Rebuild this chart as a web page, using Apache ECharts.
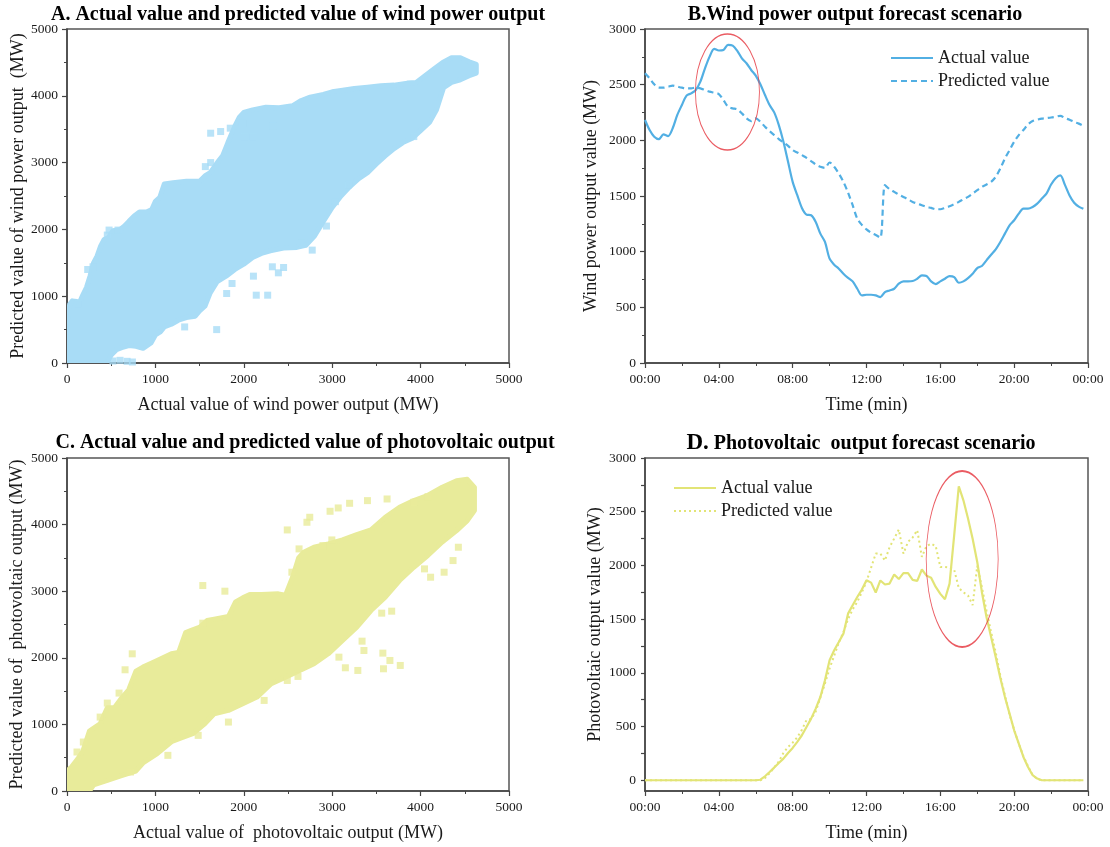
<!DOCTYPE html>
<html lang="en">
<head>
<meta charset="UTF-8">
<title>Wind and photovoltaic output forecast</title>
<script src="https://cdn.jsdelivr.net/npm/echarts@6/dist/echarts.min.js"></script>
<style>
  html, body { margin: 0; padding: 0; background: #fff; }
  #chart { width: 1110px; height: 847px; }
</style>
</head>
<body>
<div id="chart"></div>
<script>
// ---- data ----
// A: wind scatter, cloud outline (upper / lower edge) plus loose points
var windUpper = [[0,560],[30,880],[60,930],[110,920],[140,900],[180,1020],[220,1130],[260,1300],[300,1500],[340,1600],
  [380,1750],[420,1850],[470,1880],[520,1980],[600,2000],[650,2050],[700,2120],[760,2200],[820,2260],[900,2260],
  [960,2300],[1000,2420],[1050,2480],[1100,2680],[1200,2700],[1350,2720],[1500,2720],[1560,2800],[1620,2850],
  [1700,3000],[1760,3100],[1820,3300],[1900,3550],[1950,3680],[2000,3750],[2100,3790],[2250,3830],[2400,3820],
  [2550,3850],[2650,3930],[2750,3980],[2900,4020],[3000,4060],[3100,4080],[3250,4110],[3400,4130],[3550,4150],
  [3700,4160],[3850,4190],[3950,4200],[4050,4300],[4150,4400],[4250,4500],[4350,4570],[4450,4570],[4550,4510],[4630,4470]];
var windLower = [[0,0],[450,0],[500,120],[560,200],[620,230],[700,260],[780,250],[860,220],[950,300],[1000,420],
  [1060,470],[1100,540],[1180,580],[1260,640],[1350,680],[1450,700],[1500,780],[1560,850],[1620,1050],[1700,1220],
  [1800,1300],[1900,1400],[2000,1480],[2100,1580],[2200,1640],[2300,1680],[2450,1720],[2600,1730],[2700,1760],
  [2800,1900],[2900,2120],[3000,2330],[3100,2500],[3200,2640],[3300,2760],[3400,2850],[3500,2980],[3600,3100],
  [3700,3210],[3800,3300],[3900,3360],[4000,3480],[4100,3600],[4180,3790],[4260,4120],[4350,4200],[4450,4240],
  [4550,4300],[4630,4340]];
var windOutliers = [[125,890],[234,1400],[294,1440],[456,1915],[476,1990],[577,1990],[520,30],[600,40],[680,25],
  [740,15],[1331,540],[1693,500],[1806,1040],[1867,1190],[2109,1300],[2141,1015],[2270,1015],[2323,1440],
  [2391,1350],[2774,1690],[2935,2050],[2653,1790],[1565,2940],[1625,3000],[1625,3440],[1738,3465],[1847,3515],
  [1988,3590],[2008,3390],[2109,3390],[2330,3550],[2585,3615],[3923,3390],[3185,2665],[3036,2415],[2450,1430]];

// C: photovoltaic scatter
var pvUpper = [[0,300],[50,360],[120,480],[180,600],[254,900],[320,960],[375,1010],[456,1250],[536,1250],
  [620,1400],[698,1520],[780,1800],[859,1860],[940,1910],[1020,1960],[1181,2060],[1262,2080],[1342,2380],
  [1420,2420],[1504,2460],[1585,2560],[1665,2580],[1826,2620],[1907,2840],[1988,2900],[2068,2950],[2200,2950],
  [2391,2960],[2472,2940],[2552,3210],[2620,3500],[2673,3580],[2794,3660],[2955,3710],[3117,3770],[3278,3850],
  [3439,3920],[3600,4110],[3762,4260],[3923,4360],[4084,4440],[4245,4560],[4407,4660],[4528,4680],[4609,4560]];
var pvLower = [[0,0],[254,0],[300,90],[456,160],[617,230],[778,300],[859,420],[1020,560],[1181,740],[1300,800],
  [1423,860],[1550,1000],[1665,1160],[1826,1210],[1988,1310],[2149,1410],[2310,1610],[2472,1710],[2633,1810],
  [2794,1910],[2955,2060],[3117,2260],[3278,2460],[3439,2710],[3600,2910],[3762,3160],[3923,3360],[4084,3540],
  [4245,3740],[4407,3910],[4528,4060],[4609,4210]];
var pvOutliers = [[738,2060],[657,1820],[456,1320],[589,1470],[375,1110],[185,735],[113,585],[1536,3085],
  [1786,3000],[1536,2520],[2492,3920],[2714,4035],[2746,4110],[2976,4200],[3068,4250],[3197,4320],[3399,4360],
  [3621,4385],[3923,4335],[4084,4420],[2625,3635],[2895,3685],[2996,3770],[2544,3285],[4044,3335],[4113,3210],
  [4266,3285],[4367,3460],[4427,3660],[3673,2700],[3560,2670],[3338,2250],[3359,2110],[3573,2070],[3653,1960],
  [3580,1835],[3770,1885],[3149,1850],[3290,1810],[3076,2010],[2613,1720],[2492,1660],[2230,1360],[1826,1035],
  [1141,535],[1484,835],[718,285]];

// B / D: one value every 15 minutes from 00:00 to 23:45
var stepMin = 15;
var windActual = [
  2183,2093,2033,2011, 2053,2038,2108,2228, 2318,2402,2422,2452, 2527,2647,2752,2822,
  2807,2812,2857,2851, 2804,2737,2692,2632, 2581,2503,2407,2317, 2251,2137,1987,1807,
  1627,1507,1393,1333, 1327,1267,1162,1087, 937,883,847,802, 765,733,667,607,
  613,613,607,592, 637,652,667,712, 733,733,736,757, 787,781,733,709,
  733,757,781,772, 721,733,763,802, 853,871,922,973, 1021,1087,1162,1237,
  1282,1342,1387,1387, 1402,1432,1477,1522, 1603,1660,1685,1600, 1505,1440,1405,1385];
var windPredicted = [
  2603,2557,2503,2473, 2473,2482,2491,2482, 2473,2467,2467,2473, 2467,2452,2437,2428,
  2416,2362,2302,2287, 2278,2242,2197,2173, 2197,2167,2122,2083, 2047,2011,1981,1951,
  1912,1891,1867,1843, 1813,1783,1762,1753, 1801,1762,1702,1627, 1530,1417,1297,1240,
  1200,1170,1150,1125, 1597,1561,1537,1513, 1492,1471,1447,1432, 1417,1402,1393,1381,
  1381,1393,1408,1426, 1447,1471,1492,1522, 1552,1582,1603,1627, 1672,1747,1837,1912,
  1987,2047,2092,2143, 2173,2185,2195,2200, 2205,2212,2220,2200, 2185,2165,2150,2130];
var pvActual = [
  0,0,0,0, 0,0,0,0, 0,0,0,0, 0,0,0,0, 0,0,0,0, 0,0,0,0,
  0,5,37,77, 118,161,201,254, 301,357,419,496, 574,667,775,930,
  1117,1210,1287,1365, 1551,1629,1706,1775, 1862,1840,1748,1860, 1822,1831,1915,1873,
  1928,1928,1865,1856, 1962,1905,1885,1800, 1735,1685,1830,2280, 2737,2606,2436,2249,
  2032,1753,1520,1334, 1148,952,775,620, 465,341,217,124, 47,16,0,0,
  0,0,0,0, 0,0,0,0];
var pvPredicted = [
  0,0,0,0, 0,0,0,0, 0,0,0,0, 0,0,0,0, 0,0,0,0, 0,0,0,0,
  0,0,20,65, 120,175,255,310, 350,400,470,560, 570,640,770,900,
  1040,1160,1280,1380, 1500,1590,1660,1750, 1850,1980,2110,2110, 2045,2170,2250,2334,
  2110,2220,2260,2328, 2079,2180,2203,2180, 1985,1985,1980,1960, 1790,1750,1720,1630,
  1995,1800,1580,1380, 1190,975,790,610, 470,340,225,130, 50,12,0,0,
  0,0,0,0, 0,0,0,0];

// red ellipses marking the peaks: [time in minutes, value]
var windMark = [[268, 2434]];
var pvMark = [[1031, 2060]];

var pvValueLabels = [0, 500, 1000, 1500, 2000, 2500, 3000];
var pvValueTicks = [0, 250, 500, 750, 1000, 1250, 1500, 1750, 2000, 2250, 2500, 2750, 3000];

// ---- styles ----
var serif = "'Liberation Serif', 'Times New Roman', serif";
var ink = '#1a1a1a';
var axisGray = '#444';
var windBlue = '#52afe3';
var windCloud = '#a8dcf6';
var pvYellow = '#e2e476';
var pvCloud = '#e8eb9a';
var markRed = '#e5323b';

function toPairs(values) {
  return values.map(function (v, i) { return [i * stepMin, v]; });
}

function hhmm(v) {
  var h = Math.floor(v / 60) % 24;
  return (h < 10 ? '0' : '') + h + ':00';
}

function plain(v) { return String(v); }

function label(fmt, extra) {
  var l = { fontFamily: serif, fontSize: 13.5, color: ink, margin: 9, formatter: fmt || plain };
  for (var k in extra) l[k] = extra[k];
  return l;
}

function baseAxis(extra) {
  var ax = {
    type: 'value',
    nameLocation: 'middle',
    nameTextStyle: { fontFamily: serif, fontSize: 18, color: ink },
    axisLine: { show: true, onZero: false, lineStyle: { color: axisGray, width: 1.5 } },
    axisTick: { show: true, length: 5, lineStyle: { color: axisGray, width: 1.2 } },
    minorTick: { show: true, splitNumber: 2, length: 3, lineStyle: { color: axisGray, width: 1 } },
    axisLabel: label(),
    splitLine: { show: false },
    minorSplitLine: { show: false }
  };
  for (var k in extra) ax[k] = extra[k];
  return ax;
}

// the dense point cloud, filled between its upper and lower edge
function cloud(upper, lower, color, gi) {
  return {
    type: 'custom',
    xAxisIndex: gi,
    yAxisIndex: gi,
    silent: true,
    clip: true,
    data: [[0, 0]],
    renderItem: function (params, api) {
      var pts = [];
      for (var i = 0; i < upper.length; i++) pts.push(api.coord(upper[i]));
      for (var j = lower.length - 1; j >= 0; j--) pts.push(api.coord(lower[j]));
      return {
        type: 'polygon',
        shape: { points: pts },
        style: { fill: color, stroke: color, lineWidth: 5, lineJoin: 'round' }
      };
    }
  };
}

function ellipse(data, size, gi) {
  return {
    type: 'scatter',
    xAxisIndex: gi,
    yAxisIndex: gi,
    silent: true,
    z: 10,
    symbol: 'circle',
    symbolSize: size,
    itemStyle: { color: 'rgba(0,0,0,0)', borderColor: markRed, borderWidth: 1.2 },
    data: data
  };
}

var titleStyle = { fontFamily: serif, fontSize: 20, fontWeight: 'bold', color: '#000' };
var legendText = { fontFamily: serif, fontSize: 18, color: ink };

var chart = echarts.init(document.getElementById('chart'));
chart.setOption({
  backgroundColor: '#fff',
  animation: false,
  title: [
    { text: 'A. Actual value and predicted value of wind power output', left: 298, top: 5, textAlign: 'center', padding: 0, textStyle: titleStyle },
    { text: 'B.Wind power output forecast scenario', left: 855, top: 5, textAlign: 'center', padding: 0, textStyle: titleStyle },
    { text: 'C. Actual value and predicted value of photovoltaic output', left: 305, top: 433, textAlign: 'center', padding: 0, textStyle: titleStyle },
    { text: '{d|D.} Photovoltaic  output forecast scenario', left: 861, top: 432, textAlign: 'center', padding: 0,
      textStyle: { fontFamily: serif, fontSize: 20, fontWeight: 'bold', color: '#000',
        rich: { d: { fontFamily: serif, fontSize: 23, fontWeight: 'bold', color: '#000' } } } }
  ],
  legend: [
    { data: ['Actual value', 'Predicted value'], orient: 'vertical', left: 890, top: 49, padding: 0,
      itemWidth: 42, itemHeight: 14, itemGap: 5, textStyle: legendText, itemStyle: { opacity: 0 } },
    { data: ['Actual value ', 'Predicted value '], orient: 'vertical', left: 673, top: 479, padding: 0,
      itemWidth: 42, itemHeight: 14, itemGap: 5, textStyle: legendText, itemStyle: { opacity: 0 } }
  ],
  grid: [
    { left: 67, top: 29, width: 442, height: 334, show: true, borderColor: '#555', borderWidth: 1.5, backgroundColor: 'transparent' },
    { left: 645, top: 29, width: 443, height: 334, show: true, borderColor: '#555', borderWidth: 1.5, backgroundColor: 'transparent' },
    { left: 67, top: 458, width: 442, height: 333, show: true, borderColor: '#555', borderWidth: 1.5, backgroundColor: 'transparent' },
    { left: 645, top: 458, width: 443, height: 333, show: true, borderColor: '#555', borderWidth: 1.5, backgroundColor: 'transparent' }
  ],
  xAxis: [
    baseAxis({ gridIndex: 0, min: 0, max: 5000, interval: 1000, name: 'Actual value of wind power output (MW)', nameGap: 33 }),
    baseAxis({ gridIndex: 1, min: 0, max: 1440, interval: 240, name: 'Time (min)', nameGap: 33, axisLabel: label(hhmm) }),
    baseAxis({ gridIndex: 2, min: 0, max: 5000, interval: 1000, name: 'Actual value of  photovoltaic output (MW)', nameGap: 33 }),
    baseAxis({ gridIndex: 3, min: 0, max: 1440, interval: 240, name: 'Time (min)', nameGap: 33, axisLabel: label(hhmm) })
  ],
  yAxis: [
    baseAxis({ gridIndex: 0, min: 0, max: 5000, interval: 1000, name: 'Predicted value of wind power output  (MW)', nameGap: 40 }),
    baseAxis({ gridIndex: 1, min: 0, max: 3000, interval: 500, name: 'Wind power output value (MW)', nameGap: 45 }),
    baseAxis({ gridIndex: 2, min: 0, max: 5000, interval: 1000, name: 'Predicted value of  photovoltaic output (MW)', nameGap: 41 }),
    baseAxis({ gridIndex: 3, min: -100, max: 3000, name: 'Photovoltaic output value (MW)', nameGap: 41,
      minorTick: { show: false },
      axisTick: { show: true, length: 4, customValues: pvValueTicks, lineStyle: { color: axisGray, width: 1.2 } },
      axisLabel: label(plain, { customValues: pvValueLabels }) })
  ],
  series: [
    cloud(windUpper, windLower, windCloud, 0),
    { type: 'scatter', xAxisIndex: 0, yAxisIndex: 0, symbol: 'rect', symbolSize: 7, silent: true,
      itemStyle: { color: windCloud }, data: windOutliers },

    { name: 'Actual value', type: 'line', xAxisIndex: 1, yAxisIndex: 1, data: toPairs(windActual),
      showSymbol: false, symbol: 'none', smooth: 0.3, color: windBlue,
      lineStyle: { color: windBlue, width: 2.2 } },
    { name: 'Predicted value', type: 'line', xAxisIndex: 1, yAxisIndex: 1, data: toPairs(windPredicted),
      showSymbol: false, symbol: 'none', smooth: 0.3, color: windBlue,
      lineStyle: { color: windBlue, width: 2.2, type: [6, 4] } },
    ellipse(windMark, [64, 116], 1),

    cloud(pvUpper, pvLower, pvCloud, 2),
    { type: 'scatter', xAxisIndex: 2, yAxisIndex: 2, symbol: 'rect', symbolSize: 7, silent: true,
      itemStyle: { color: pvCloud }, data: pvOutliers },

    { name: 'Actual value ', type: 'line', xAxisIndex: 3, yAxisIndex: 3, data: toPairs(pvActual),
      showSymbol: false, symbol: 'none', color: pvYellow,
      lineStyle: { color: pvYellow, width: 2.2 } },
    { name: 'Predicted value ', type: 'line', xAxisIndex: 3, yAxisIndex: 3, data: toPairs(pvPredicted),
      showSymbol: false, symbol: 'none', color: pvYellow,
      lineStyle: { color: pvYellow, width: 2, type: [2, 3] } },
    ellipse(pvMark, [72, 176], 3)
  ]
});
</script>
</body>
</html>
